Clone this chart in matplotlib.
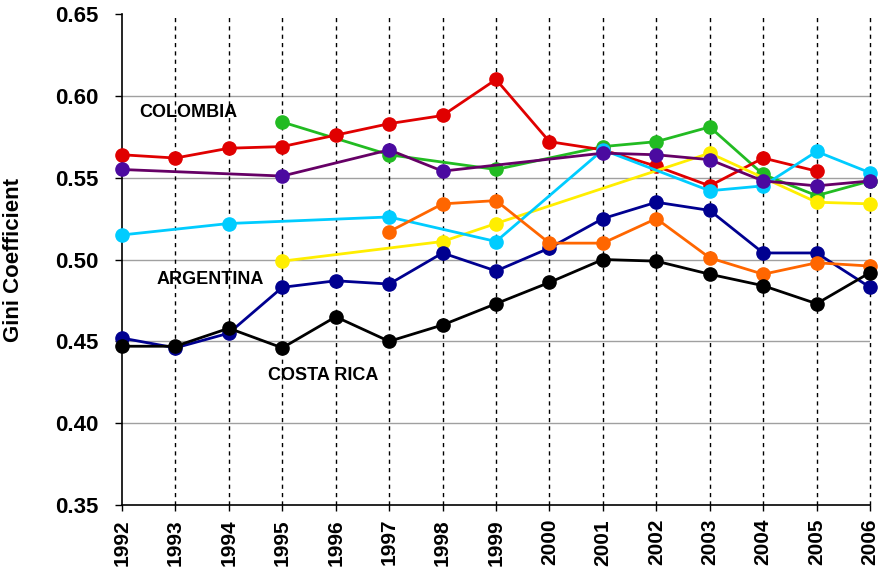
import numpy as np
import matplotlib
matplotlib.use("Agg")
import matplotlib.pyplot as plt

years = list(range(1992, 2007))

# Gini coefficients per series (None = no observation)
green = [None, None, None, 0.584, None, 0.564, None, 0.555, None, 0.569, 0.572, 0.581, 0.552, 0.539, 0.548]
colombia = [0.564, 0.562, 0.568, 0.569, 0.576, 0.583, 0.588, 0.610, 0.572, 0.567, 0.557, 0.545, 0.562, 0.554, None]
yellow = [None, None, None, 0.499, None, None, 0.511, 0.522, None, None, None, 0.565, None, 0.535, 0.534]
cyan = [0.515, None, 0.522, None, None, 0.526, None, 0.511, None, 0.567, None, 0.542, 0.545, 0.566, 0.553]
purple = [0.555, None, None, 0.551, None, 0.567, 0.554, None, None, 0.565, 0.564, 0.561, 0.548, 0.545, 0.548]
argentina = [0.452, 0.446, 0.455, 0.483, 0.487, 0.485, 0.504, 0.493, 0.507, 0.525, 0.535, 0.530, 0.504, 0.504, 0.483]
orange = [None, None, None, None, None, 0.517, 0.534, 0.536, 0.510, 0.510, 0.525, 0.501, 0.491, 0.498, 0.496]
costa_rica = [0.447, 0.447, 0.458, 0.446, 0.465, 0.450, 0.460, 0.473, 0.486, 0.500, 0.499, 0.491, 0.484, 0.473, 0.492]

series = [
    (green, "#22BB22", "#22BB22"),
    (colombia, "#E00000", "#E00000"),
    (yellow, "#FFEE00", "#FFEE00"),
    (cyan, "#00CCFF", "#00CCFF"),
    (purple, "#660066", "#4B0AA0"),
    (argentina, "#000090", "#000090"),
    (orange, "#FF6600", "#FF6600"),
    (costa_rica, "#000000", "#000000"),
]

plt.rcParams["font.family"] = ["Liberation Sans", "DejaVu Sans"]
plt.rcParams["font.weight"] = "bold"

fig = plt.figure(figsize=(8.86, 5.77), dpi=100)
ax = fig.add_axes([0.1377, 0.1248, 0.8443, 0.8509])

for y in [0.40, 0.45, 0.50, 0.55, 0.60]:
    ax.axhline(y, color="#A0A0A0", lw=1, zorder=1)
for yr in years[1:]:
    ax.axvline(yr, color="black", lw=1, ls=(0, (3, 3)), zorder=1, clip_on=False)

for vals, lc, mc in series:
    xs = [x for x, v in zip(years, vals) if v is not None]
    ys = [v for v in vals if v is not None]
    ax.plot(xs, ys, color=lc, lw=2, marker="o", ms=9.5,
            markerfacecolor=mc, markeredgecolor=mc, zorder=3, clip_on=False)

ax.text(1992.32, 0.590, "COLOMBIA", fontsize=13, fontweight="bold", va="center")
ax.text(1992.65, 0.4875, "ARGENTINA", fontsize=13, fontweight="bold", va="center")
ax.text(1994.73, 0.4294, "COSTA RICA", fontsize=13, fontweight="bold", va="center")

ax.set_xlim(1992, 2006)
ax.set_ylim(0.35, 0.65)
ax.set_xticks(years)
ax.set_xticklabels([str(y) for y in years], rotation=90, fontsize=15, fontweight="bold")
ax.set_yticks([0.35, 0.40, 0.45, 0.50, 0.55, 0.60, 0.65])
ax.set_yticklabels(["%.2f" % v for v in ax.get_yticks()], fontsize=16, fontweight="bold")
ax.tick_params(axis="x", direction="out", length=4, width=1, pad=6)
ax.tick_params(axis="y", direction="out", length=5, width=1, pad=12)
ax.set_ylabel("Gini Coefficient", fontsize=16, fontweight="bold", labelpad=22)
ax.spines["top"].set_visible(False)
ax.spines["right"].set_visible(False)
ax.spines["left"].set_linewidth(1.2)
ax.spines["bottom"].set_linewidth(1.2)

fig.savefig("out.png", dpi=100)
